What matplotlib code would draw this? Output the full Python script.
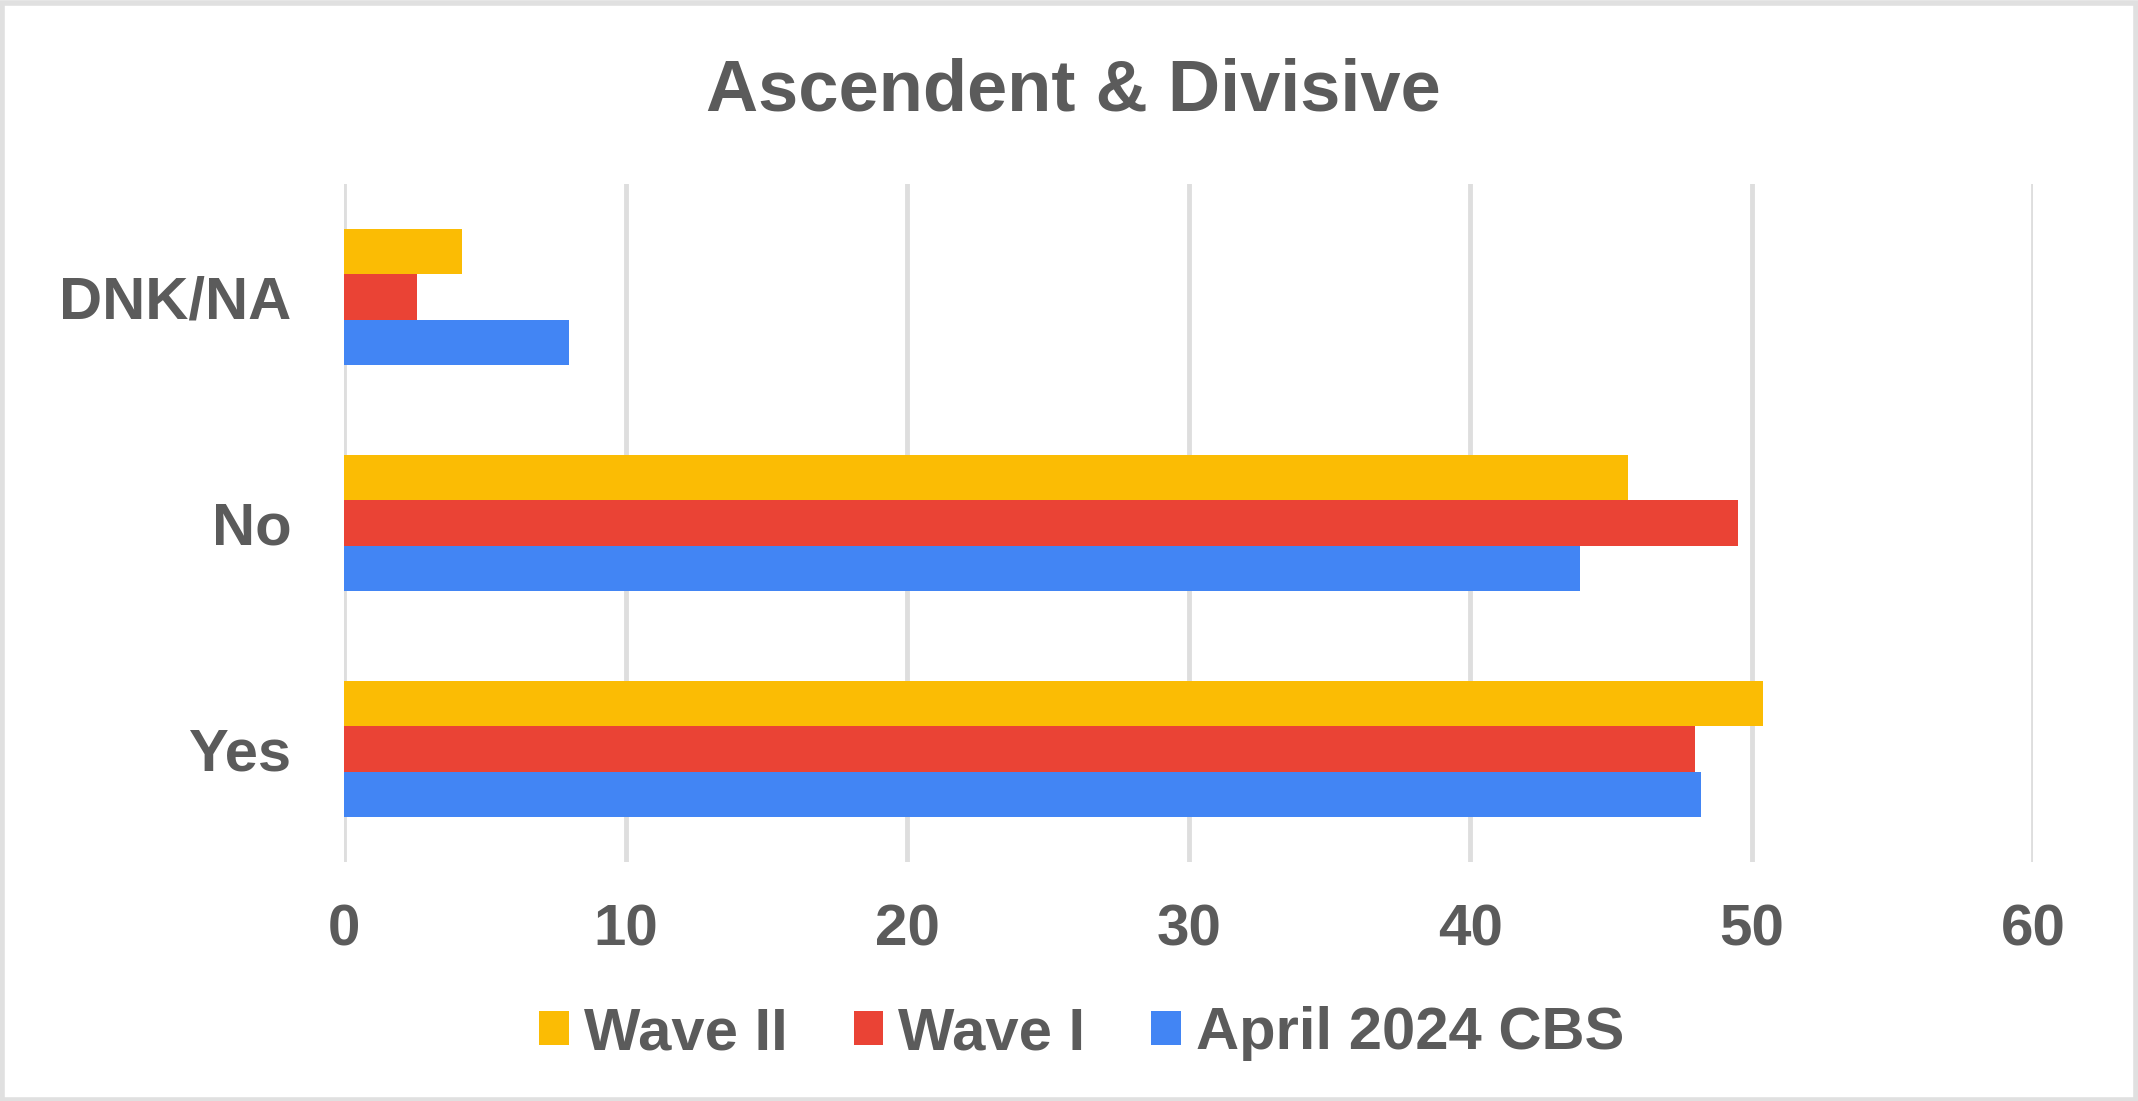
import matplotlib.pyplot as plt
from matplotlib.patches import Patch, Rectangle
import numpy as np

categories = ['Yes', 'No', 'DNK/NA']
series_names = ['Wave II', 'Wave I', 'April 2024 CBS']
wave2 = [50.4, 45.6, 4.2]
wave1 = [48.0, 49.5, 2.6]
cbs = [48.2, 43.9, 8.0]
xticks = [0, 10, 20, 30, 40, 50, 60]

colors = ['#FBBC04', '#EA4335', '#4285F4']
text_col = '#5b5b5b'

plt.rcParams['font.family'] = ['Liberation Sans', 'DejaVu Sans']
plt.rcParams['font.weight'] = 'bold'

fig = plt.figure(figsize=(21.38, 11.01), dpi=100)
ax = fig.add_axes([0.161, 0.217, 0.790, 0.616])

y = np.arange(len(categories))
h = 0.2
for vals, off, c in zip([wave2, wave1, cbs], [h, 0, -h], colors):
    ax.barh(y + off, vals, height=h, color=c, zorder=3)

ax.set_xlim(0, 60)
ax.set_ylim(-0.5, 2.5)
ax.set_xticks(xticks)
ax.set_xticklabels([str(t) for t in xticks])
ax.set_yticks(y)
ax.set_yticklabels(categories)
ax.tick_params(axis='x', length=0, pad=30, labelsize=42, labelcolor=text_col)
ax.tick_params(axis='y', length=0, pad=38, labelsize=43, labelcolor=text_col)
ax.grid(axis='x', color='#dedede', linewidth=3.5, zorder=0)
for s in ax.spines.values():
    s.set_visible(False)

fig.text(0.502, 0.917, 'Ascendent & Divisive', ha='center', va='center',
         fontsize=52, fontweight='bold', color=text_col)

handles = [Patch(facecolor=c) for c in colors]
fig.legend(handles, series_names, loc='center', bbox_to_anchor=(0.506, 0.061),
           ncol=3, frameon=False, fontsize=43, labelcolor=text_col,
           handlelength=0.5, handleheight=0.5, handletextpad=0.25,
           columnspacing=1.1)

fig.patches.append(Rectangle((0.001, 0.001), 0.998, 0.996, transform=fig.transFigure,
                             fill=False, edgecolor='#e0e0e0', linewidth=4))

fig.savefig('out.png', dpi=100)
